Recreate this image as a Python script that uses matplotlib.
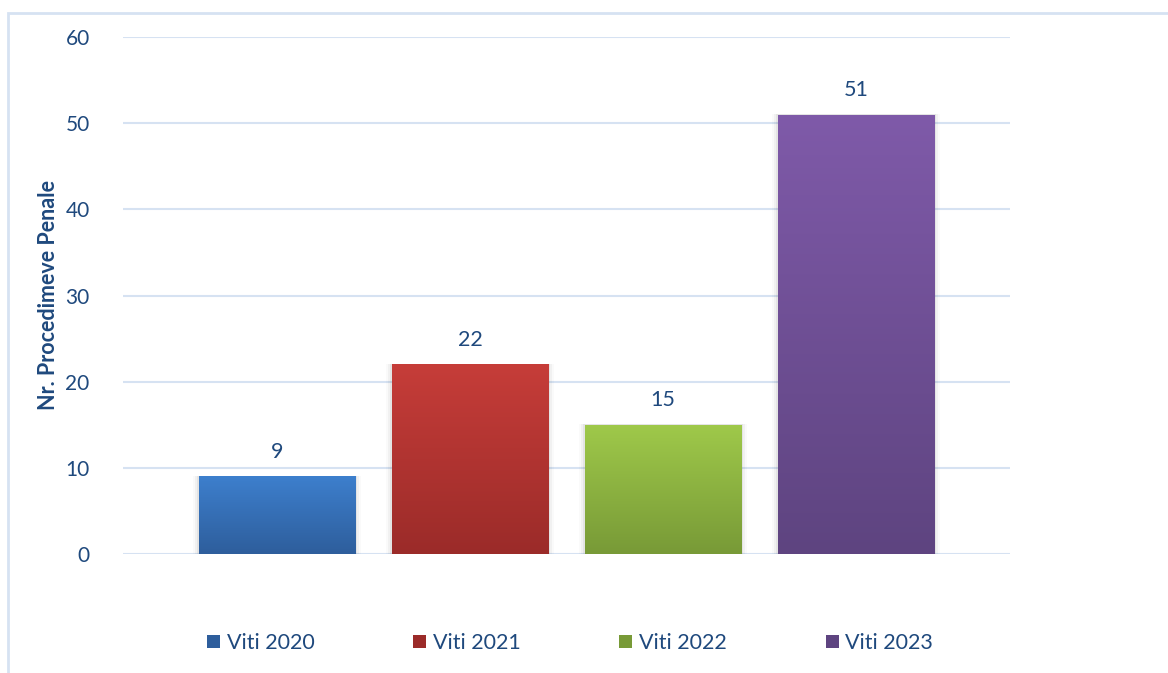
import matplotlib
matplotlib.use("Agg")
import matplotlib.pyplot as plt
import numpy as np
from matplotlib.colors import LinearSegmentedColormap
from matplotlib.patches import Patch, Rectangle

plt.rcParams['font.family'] = ['Lato', 'DejaVu Sans']

series = ["Viti 2020", "Viti 2021", "Viti 2022", "Viti 2023"]
values = [9, 22, 15, 51]
top_colors = ["#3D7FCD", "#C63D39", "#9FC94A", "#7F5AA9"]
bottom_colors = ["#2E5E9C", "#9B2B29", "#789A37", "#5E4480"]
yticks = [0, 10, 20, 30, 40, 50, 60]
ylabel = "Nr. Procedimeve Penale"

text_color = "#1F497D"
grid_color = "#D6E2F2"

fig = plt.figure(figsize=(11.68, 6.73), dpi=100)
fig.patches.append(Rectangle((8/1168, -0.01), 1.1, 1 - 13/673 + 0.01, transform=fig.transFigure,
                             fill=False, edgecolor=grid_color, linewidth=2, zorder=0))

ax = fig.add_axes([123/1168, 1 - 554/673, 887/1168, 517/673])
x = np.arange(len(values))
width = 0.81
bars = ax.bar(x, values, width=width, color="none", zorder=3)

for i, (b, v) in enumerate(zip(bars, values)):
    # soft shadow on the sides
    for k, a in enumerate([0.05, 0.035, 0.02]):
        d = 0.01 * (k + 1)
        sh = Rectangle((b.get_x() - d, 0), b.get_width() + 2 * d, v + d * 3,
                       facecolor="black", alpha=a, edgecolor="none", zorder=2)
        ax.add_patch(sh)
    cmap = LinearSegmentedColormap.from_list("g", [bottom_colors[i], top_colors[i]])
    grad = np.linspace(0, 1, 256).reshape(-1, 1)
    im = ax.imshow(grad, cmap=cmap, origin="lower", aspect="auto",
                   extent=[b.get_x(), b.get_x() + b.get_width(), 0, v], zorder=4)
    im.set_clip_path(b)
    ax.text(b.get_x() + b.get_width() / 2, v + 2.85, str(v), ha="center", va="center",
            fontsize=15.5, color=text_color, zorder=5)

ax.set_xlim(-0.80, 3.80)
ax.set_ylim(0, 60)
ax.set_yticks(yticks)
ax.set_yticklabels([str(t) for t in yticks], fontsize=15, color=text_color)
ax.set_xticks([])
ax.tick_params(axis="y", length=0, pad=24)
for s in ax.spines.values():
    s.set_visible(False)
ax.grid(axis="y", color=grid_color, linewidth=1.5, zorder=0)
ax.set_axisbelow(True)
ax.set_ylabel(ylabel, fontsize=15.5, fontweight="bold", color=text_color)
ax.yaxis.set_label_coords(-0.072, 0.50)

handles = [Patch(facecolor=c, edgecolor="none") for c in bottom_colors]
leg = fig.legend(handles, series, loc="center", bbox_to_anchor=(570/1168, 1 - 643/673), ncol=4,
                 frameon=False, fontsize=15.5, handlelength=0.6, handleheight=0.6,
                 handletextpad=0.3, columnspacing=4.6, labelcolor=text_color)

fig.savefig("out.png", dpi=100)
